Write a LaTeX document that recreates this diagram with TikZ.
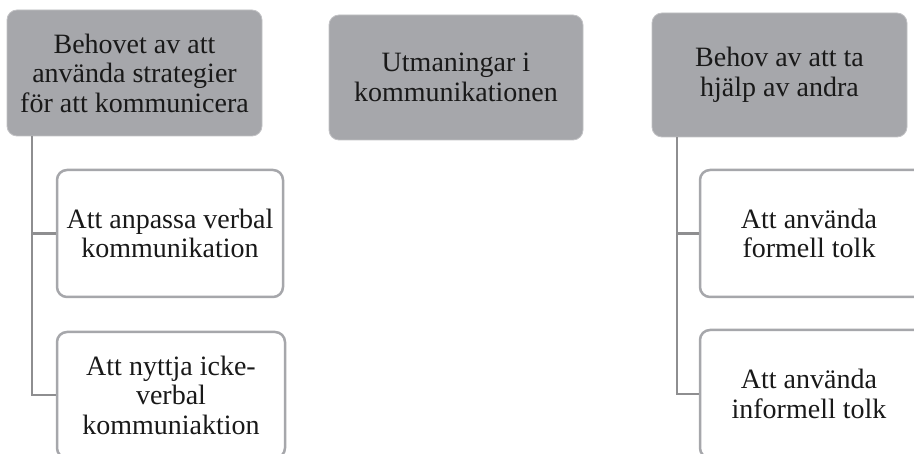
\documentclass[tikz,border=0pt]{standalone}
\usepackage{fontspec}
\setmainfont{Liberation Serif}
\definecolor{boxgray}{HTML}{A6A7AB}
\definecolor{linegray}{HTML}{8E8E90}
\begin{document}
\begin{tikzpicture}[x=1pt,y=-1pt,
  txt/.style={align=center, font=\fontsize{28}{29.5}\selectfont, text=black!90},
  topbox/.style={txt, draw=boxgray!70!white, line width=0.8pt, fill=boxgray, rounded corners=10pt, inner sep=0pt},
  childbox/.style={txt, draw=boxgray, line width=2.5pt, fill=white, rounded corners=10pt, inner sep=0pt},
  conn/.style={draw=linegray, line width=2.5pt}]
\clip (0,0) rectangle (914,454);
\useasboundingbox (0,0) rectangle (914,454);
% top boxes
\node[topbox, minimum width=255pt, minimum height=126pt] (t1) at (134.5,73) {Behovet av att\\använda strategier\\för att kommunicera};
\node[topbox, minimum width=254pt, minimum height=125pt] (t2) at (456,77.5) {Utmaningar i\\kommunikationen};
\node[topbox, minimum width=255pt, minimum height=124pt] (t3) at (779.5,75) {Behov av att ta\\hjälp av andra};
% left children
\node[childbox, minimum width=226pt, minimum height=127pt] (c1) at (170,233.5) {Att anpassa verbal\\kommunikation};
\node[childbox, minimum width=228pt, minimum height=126pt] (c2) at (171,395) {Att nyttja icke-\\verbal\\kommuniaktion};
% right children
\node[childbox, minimum width=226pt, minimum height=127pt] (c3) at (813,233.5) {};
\node[childbox, minimum width=226pt, minimum height=128pt] (c4) at (813,394) {};
\node[txt] (l3) at (809,233.5) {Att använda\\formell tolk};
\node[txt] (l4) at (809,394) {Att använda\\informell tolk};
% connectors
\coordinate (v1) at (32,0);
\coordinate (v3) at (677,0);
\draw[conn] (t1.south -| v1) |- (c1.west);
\draw[conn] (t1.south -| v1) |- (c2.west);
\draw[conn] (t3.south -| v3) |- (c3.west);
\draw[conn] (t3.south -| v3) |- (c4.west);
\end{tikzpicture}
\end{document}
